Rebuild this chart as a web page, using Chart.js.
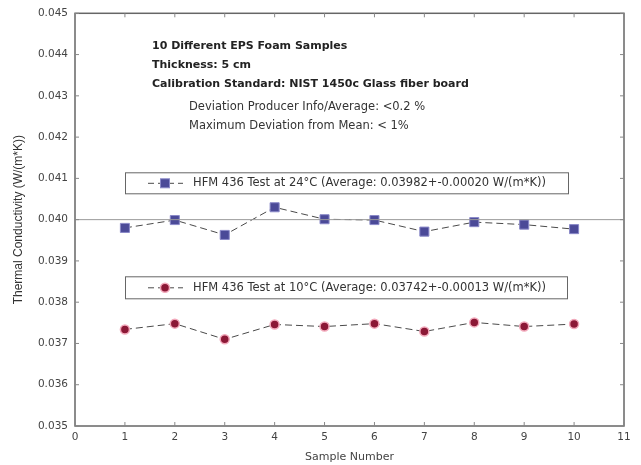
<!DOCTYPE html>
<html>
<head>
<meta charset="utf-8">
<script src="https://cdn.jsdelivr.net/npm/chart.js@4/dist/chart.umd.min.js"></script>
<style>
  html, body { margin: 0; padding: 0; background: #ffffff; }
  canvas { display: block; }
</style>
</head>
<body>
<canvas id="chart" width="641" height="465"></canvas>
<script>
// Sample numbers of the ten EPS foam specimens
const sampleNumbers = [1, 2, 3, 4, 5, 6, 7, 8, 9, 10];

// Thermal conductivity in W/(m*K), HFM 436 at 24 °C
const conductivity24C = [0.03980, 0.03999, 0.03963, 0.04030, 0.04001, 0.03999, 0.03971, 0.03994, 0.03988, 0.03977];

// Thermal conductivity in W/(m*K), HFM 436 at 10 °C
const conductivity10C = [0.03734, 0.03748, 0.03710, 0.03746, 0.03741, 0.03748, 0.03729, 0.03751, 0.03741, 0.03747];

// Horizontal reference level
const referenceLevel = 0.040;

// Axis ranges and tick steps
const xRange = [0, 11];
const yRange = [0.035, 0.045];
const yStep = 0.001;

const legendLabels = [
  'HFM 436 Test at 24\u00B0C (Average: 0.03982+-0.00020 W/(m*K))',
  'HFM 436 Test at 10\u00B0C (Average: 0.03742+-0.00013 W/(m*K))'
];

const noteBold = [
  '10 Different EPS Foam Samples',
  'Thickness: 5 cm',
  'Calibration Standard: NIST 1450c Glass fiber board'
];
const notePlain = [
  'Deviation Producer Info/Average: <0.2 %',
  'Maximum Deviation from Mean: < 1%'
];

const BLUE = '#4b4a98';
const BLUE_EDGE = '#8a89c8';
const RED = '#8c1836';
const RED_EDGE = '#f2a9bb';
const LINE = '#4a4a4a';
const FONT = '"DejaVu Sans", "Liberation Sans", sans-serif';

const toPoints = (ys) => sampleNumbers.map((x, i) => ({ x: x, y: ys[i] }));

// Frame on all four sides with inward tick marks
const framePlugin = {
  id: 'frame',
  afterDraw(chart) {
    const { ctx, chartArea: a, scales: { x, y } } = chart;
    ctx.save();
    ctx.strokeStyle = '#666666';
    ctx.lineWidth = 1.5;
    ctx.strokeRect(a.left, a.top, a.right - a.left, a.bottom - a.top);
    ctx.lineWidth = 1;
    ctx.strokeStyle = '#888888';
    const t = 4;
    x.ticks.forEach(tk => {
      const px = x.getPixelForValue(tk.value);
      ctx.beginPath();
      ctx.moveTo(px, a.bottom); ctx.lineTo(px, a.bottom - t);
      ctx.moveTo(px, a.top); ctx.lineTo(px, a.top + t);
      ctx.stroke();
    });
    y.ticks.forEach(tk => {
      const py = y.getPixelForValue(tk.value);
      ctx.beginPath();
      ctx.moveTo(a.left, py); ctx.lineTo(a.left + t, py);
      ctx.moveTo(a.right, py); ctx.lineTo(a.right - t, py);
      ctx.stroke();
    });
    ctx.restore();
  }
};

// Text notes and the two boxed legend entries inside the plot
const notesPlugin = {
  id: 'notes',
  afterDatasetsDraw(chart) {
    const { ctx, chartArea: a } = chart;
    ctx.save();
    ctx.fillStyle = '#222222';
    ctx.textBaseline = 'middle';
    ctx.textAlign = 'left';
    ctx.font = 'bold 11px ' + FONT;
    noteBold.forEach((s, i) => ctx.fillText(s, a.left + 77, a.top + 33 + i * 19));
    ctx.font = '11.5px ' + FONT;
    ctx.fillStyle = '#333333';
    notePlain.forEach((s, i) => ctx.fillText(s, a.left + 114, a.top + 94 + i * 19));

    const boxes = [
      { top: a.top + 159, h: 21, right: a.left + 493, kind: 'rect' },
      { top: a.top + 263, h: 22, right: a.left + 492, kind: 'circle' }
    ];
    boxes.forEach((b, i) => {
      const l = a.left + 50;
      ctx.fillStyle = '#ffffff';
      ctx.fillRect(l, b.top, b.right - l, b.h);
      ctx.strokeStyle = '#666666';
      ctx.lineWidth = 1;
      ctx.strokeRect(l + 0.5, b.top + 0.5, b.right - l, b.h);
      const cy = b.top + b.h / 2 + 0.5;
      ctx.strokeStyle = LINE;
      ctx.setLineDash([6, 4]);
      ctx.beginPath();
      ctx.moveTo(l + 23, cy); ctx.lineTo(l + 58, cy);
      ctx.stroke();
      ctx.setLineDash([]);
      const mx = l + 40;
      if (b.kind === 'rect') {
        ctx.fillStyle = BLUE; ctx.strokeStyle = BLUE_EDGE; ctx.lineWidth = 1;
        ctx.fillRect(mx - 4.5, cy - 4.5, 9, 9);
        ctx.strokeRect(mx - 4.5, cy - 4.5, 9, 9);
      } else {
        ctx.fillStyle = RED; ctx.strokeStyle = RED_EDGE; ctx.lineWidth = 1.5;
        ctx.beginPath(); ctx.arc(mx, cy, 4.5, 0, Math.PI * 2); ctx.fill(); ctx.stroke();
      }
      ctx.fillStyle = '#333333';
      ctx.font = '11.5px ' + FONT;
      ctx.fillText(legendLabels[i], l + 68, cy);
    });
    ctx.restore();
  }
};

new Chart(document.getElementById('chart'), {
  type: 'scatter',
  data: {
    datasets: [
      {
        label: 'reference',
        data: xRange.map(x => ({ x: x, y: referenceLevel })),
        showLine: true,
        borderColor: '#9a9a9a',
        borderWidth: 1,
        pointRadius: 0
      },
      {
        label: legendLabels[0],
        data: toPoints(conductivity24C),
        showLine: true,
        borderColor: LINE,
        borderWidth: 1,
        borderDash: [7, 4],
        pointStyle: 'rect',
        pointRadius: 6.4,
        pointBackgroundColor: BLUE,
        pointBorderColor: BLUE_EDGE,
        pointBorderWidth: 1
      },
      {
        label: legendLabels[1],
        data: toPoints(conductivity10C),
        showLine: true,
        borderColor: LINE,
        borderWidth: 1,
        borderDash: [7, 4],
        pointStyle: 'circle',
        pointRadius: 4.5,
        pointBackgroundColor: RED,
        pointBorderColor: RED_EDGE,
        pointBorderWidth: 1.5
      }
    ]
  },
  options: {
    responsive: false,
    animation: false,
    devicePixelRatio: 1,
    layout: { padding: { top: 10, right: 17, left: 0, bottom: 0 } },
    plugins: { legend: { display: false }, tooltip: { enabled: false } },
    scales: {
      x: {
        type: 'linear',
        min: xRange[0], max: xRange[1],
        ticks: { stepSize: 1, autoSkip: false, maxRotation: 0, minRotation: 0, color: '#444444', padding: 5, font: { family: FONT, size: 10.5 } },
        grid: { display: false, drawTicks: false, tickLength: 0 },
        border: { display: false },
        title: { display: true, text: 'Sample Number', color: '#444444', font: { family: FONT, size: 11 }, padding: { top: 0, bottom: 1 } },
        afterFit(s) { s.height = 39; }
      },
      y: {
        type: 'linear',
        min: yRange[0], max: yRange[1],
        ticks: {
          stepSize: yStep, color: '#444444', padding: 7, font: { family: FONT, size: 10.5 },
          callback: (v) => v.toFixed(3)
        },
        grid: { display: false, drawTicks: false, tickLength: 0 },
        border: { display: false },
        title: { display: true, text: 'Thermal Conductivity (W/(m*K))', color: '#333333', font: { family: '"Liberation Sans", sans-serif', size: 12 }, padding: { top: 11, bottom: 0 } },
        afterFit(s) { s.width = 75; }
      }
    }
  },
  plugins: [framePlugin, notesPlugin]
});
</script>
</body>
</html>
